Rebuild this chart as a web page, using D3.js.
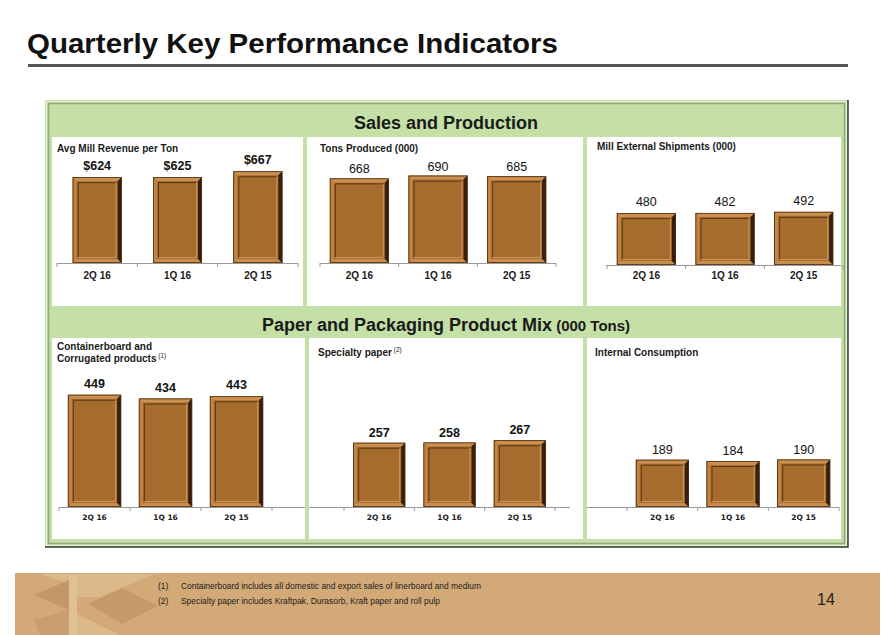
<!DOCTYPE html>
<html>
<head>
<meta charset="utf-8">
<script src="https://cdn.jsdelivr.net/npm/d3@7"></script>
<style>
  body { margin: 0; background: #fff; }
  svg { display: block; font-family: "Liberation Sans", Arial, sans-serif; }
</style>
</head>
<body>
<svg id="chart" width="892" height="635"></svg>
<script>
// data
const quarters = ['2Q 16', '1Q 16', '2Q 15'];
const avgRevenue = [624, 625, 667];
const tonsProduced = [668, 690, 685];
const externalShipments = [480, 482, 492];
const containerboard = [449, 434, 443];
const specialtyPaper = [257, 258, 267];
const internalConsumption = [189, 184, 190];

const svg = d3.select('#chart');

// title + rule
svg.append('text')
  .attr('x', 27).attr('y', 53)
  .attr('font-size', 28).attr('font-weight', 'bold').attr('fill', '#111')
  .attr('textLength', 531).attr('lengthAdjust', 'spacingAndGlyphs')
  .text('Quarterly Key Performance Indicators');
svg.append('rect').attr('x', 28).attr('y', 64).attr('width', 820).attr('height', 3).attr('fill', '#555');

// green frame
svg.append('rect').attr('x', 45).attr('y', 100).attr('width', 803).attr('height', 447).attr('fill', '#c5e0a6');
svg.append('rect').attr('x', 46.5).attr('y', 101.5).attr('width', 800).attr('height', 444)
  .attr('fill', 'none').attr('stroke', '#e6f2da').attr('stroke-width', 1);
svg.append('rect').attr('x', 48.5).attr('y', 103.5).attr('width', 796).attr('height', 440)
  .attr('fill', 'none').attr('stroke', '#8fa97c').attr('stroke-width', 1.5);
svg.append('path').attr('d', 'M848,100V547H45').attr('fill', 'none').attr('stroke', '#2f3a2a').attr('stroke-width', 1.5);

// white panels
const panels = [
  [52, 137, 251, 169], [307, 137, 276, 169], [587, 137, 254, 169],
  [52, 338, 253, 201], [309, 338, 274, 201], [587, 338, 254, 201]
];
svg.selectAll('rect.panel').data(panels).join('rect').attr('class', 'panel')
  .attr('x', d => d[0]).attr('y', d => d[1]).attr('width', d => d[2]).attr('height', d => d[3])
  .attr('fill', '#fff');

// section headers
svg.append('text').attr('x', 446).attr('y', 129).attr('text-anchor', 'middle')
  .attr('font-size', 18).attr('font-weight', 'bold').attr('fill', '#1a1a1a')
  .text('Sales and Production');
const h2 = svg.append('text').attr('x', 446).attr('y', 331).attr('text-anchor', 'middle')
  .attr('font-weight', 'bold').attr('fill', '#1a1a1a');
h2.append('tspan').attr('font-size', 18).text('Paper and Packaging Product Mix');
h2.append('tspan').attr('font-size', 15).text(' (000 Tons)');

const charts = [
  { title: ['Avg Mill Revenue per Ton'], sup: null, values: avgRevenue, prefix: '$', tx: 57, ty: 152,
    range: [57, 298], axis: [57, 298], base: 263, yMax: 800, yH: 110, frac: 0.61, bold: true, gap: 7, row: 0 },
  { title: ['Tons Produced (000)'], sup: null, values: tonsProduced, prefix: '', tx: 320, ty: 152,
    range: [320, 556], axis: [320, 556], base: 263, yMax: 900, yH: 114, frac: 0.75, bold: false, gap: 5, row: 0 },
  { title: ['Mill External Shipments (000)'], sup: null, values: externalShipments, prefix: '', tx: 597, ty: 150,
    range: [607, 843], axis: [606, 841], base: 265, yMax: 1000, yH: 108, frac: 0.75, bold: false, gap: 7, row: 0 },
  { title: ['Containerboard and', 'Corrugated products'], sup: '(1)', values: containerboard, prefix: '', tx: 57, ty: 350,
    range: [59, 272], axis: [59, 305], base: 507, yMax: 500, yH: 125, frac: 0.75, bold: true, gap: 7, row: 1 },
  { title: ['Specialty paper'], sup: '(2)', values: specialtyPaper, prefix: '', tx: 318, ty: 356,
    range: [344, 555], axis: [309, 570], base: 507, yMax: 500, yH: 125, frac: 0.74, bold: true, gap: 6, row: 1 },
  { title: ['Internal Consumption'], sup: null, values: internalConsumption, prefix: '', tx: 595, ty: 356,
    range: [627, 839], axis: [587, 839], base: 507, yMax: 500, yH: 125, frac: 0.75, bold: false, gap: 6, row: 1 }
];

function drawBar(s, bw, h) {
  s.append('rect').attr('width', bw).attr('height', h).attr('fill', '#a66c2e');
  s.append('path').attr('d', `M0,0H${bw}L${bw - 4},4H4Z`).attr('fill', '#cb9052');
  s.append('path').attr('d', `M0,0L4,4V${h - 4}L0,${h}Z`).attr('fill', '#c08444');
  s.append('path').attr('d', `M0,${h}L4,${h - 4}H${bw - 4}L${bw},${h}Z`).attr('fill', '#c88c4c');
  s.append('path').attr('d', `M${bw},0V${h}L${bw - 4},${h - 4}V4Z`).attr('fill', '#352010');
  // inner frame
  s.append('path').attr('d', `M5.5,${h - 5.5}V5.5H${bw - 5.5}`).attr('fill', 'none').attr('stroke', '#5a3613');
  s.append('path').attr('d', `M${bw - 5.5},5.5V${h - 5.5}H5.5`).attr('fill', 'none').attr('stroke', '#cf975a');
  s.append('rect').attr('x', 0.4).attr('y', 0.4).attr('width', bw - 0.8).attr('height', h - 0.8)
    .attr('fill', 'none').attr('stroke', '#4a2c10').attr('stroke-width', 0.8);
}

charts.forEach(c => {
  const g = svg.append('g');
  const data = quarters.map((q, i) => ({ q: q, v: c.values[i] }));

  const x = d3.scaleBand().domain(quarters).range(c.range).paddingInner(0).paddingOuter(0);
  const y = d3.scaleLinear().domain([0, c.yMax]).range([c.base, c.base - c.yH]);

  // chart title
  const t = g.append('text').attr('x', c.tx).attr('y', c.ty)
    .attr('font-size', 10).attr('font-weight', 'bold').attr('fill', '#1a1a1a');
  c.title.forEach((line, i) => {
    t.append('tspan').attr('x', c.tx).attr('dy', i === 0 ? 0 : 12).text(line);
  });
  if (c.sup) {
    t.append('tspan').attr('font-size', 6.5).attr('font-weight', 'normal').attr('dy', -4).text(' ' + c.sup);
  }

  // axis line and ticks
  g.append('line').attr('x1', c.axis[0]).attr('x2', c.axis[1])
    .attr('y1', c.base + 0.5).attr('y2', c.base + 0.5).attr('stroke', '#9a9a9a');
  const ticks = quarters.map(q => x(q)).concat([c.range[1]]);
  g.selectAll('line.tick').data(ticks).join('line').attr('class', 'tick')
    .attr('x1', d => d).attr('x2', d => d)
    .attr('y1', c.base).attr('y2', c.base + 4).attr('stroke', '#9a9a9a');

  // bars
  const bw = x.bandwidth() * c.frac;
  g.selectAll('g.bar').data(data).join('g').attr('class', 'bar')
    .attr('transform', d => `translate(${x(d.q) + (x.bandwidth() - bw) / 2},${y(d.v)})`)
    .each(function (d) { drawBar(d3.select(this), bw, c.base - y(d.v)); });

  // value labels
  g.selectAll('text.val').data(data).join('text').attr('class', 'val')
    .attr('x', d => x(d.q) + x.bandwidth() / 2)
    .attr('y', d => y(d.v) - c.gap)
    .attr('text-anchor', 'middle')
    .attr('font-size', c.bold ? 12.5 : 12.5)
    .attr('font-weight', c.bold ? 'bold' : 'normal')
    .attr('fill', '#111')
    .text(d => c.prefix + d.v);

  // category labels
  g.selectAll('text.cat').data(quarters).join('text').attr('class', 'cat')
    .attr('x', d => x(d) + x.bandwidth() / 2)
    .attr('y', c.row === 0 ? 279 : 520)
    .attr('text-anchor', 'middle')
    .attr('font-family', c.row === 0 ? null : '"DejaVu Sans", Verdana, sans-serif')
    .attr('font-size', c.row === 0 ? 10 : 7.5)
    .attr('font-weight', 'bold')
    .attr('fill', '#1a1a1a')
    .text(d => d);
});

// footer band
svg.append('rect').attr('x', 15).attr('y', 573).attr('width', 865).attr('height', 62).attr('fill', '#d3a977');
const logo = [
  { pts: [[40, 574], [155, 574], [100, 597], [69, 597], [69, 584]], fill: '#dcb98a' },
  { pts: [[34, 595], [69, 580], [69, 610]], fill: '#c39866' },
  { pts: [[88, 604], [122, 588], [158, 606], [122, 624]], fill: '#c69b69' },
  { pts: [[34, 620], [69, 610], [69, 635], [40, 635]], fill: '#c99e6c' },
  { pts: [[77, 614], [120, 635], [77, 635]], fill: '#dcb98a' },
  { pts: [[69, 574], [77, 574], [77, 635], [69, 635]], fill: '#e0c093' }
];
svg.selectAll('polygon.logo').data(logo).join('polygon').attr('class', 'logo')
  .attr('points', d => d.pts.map(p => p.join(',')).join(' '))
  .attr('fill', d => d.fill);

const notes = [
  { n: '(1)', t: 'Containerboard includes all domestic and export sales of linerboard and medium', w: 300, y: 589 },
  { n: '(2)', t: 'Specialty paper includes Kraftpak, Durasorb, Kraft paper and roll pulp', w: 259, y: 604 }
];
notes.forEach(d => {
  svg.append('text').attr('x', 158).attr('y', d.y).attr('font-size', 8.5).attr('fill', '#222').text(d.n);
  svg.append('text').attr('x', 181).attr('y', d.y).attr('font-size', 8.5).attr('fill', '#222')
    .attr('textLength', d.w).attr('lengthAdjust', 'spacingAndGlyphs').text(d.t);
});
svg.append('text').attr('x', 817).attr('y', 605).attr('font-size', 16).attr('fill', '#222').text('14');
</script>
</body>
</html>
